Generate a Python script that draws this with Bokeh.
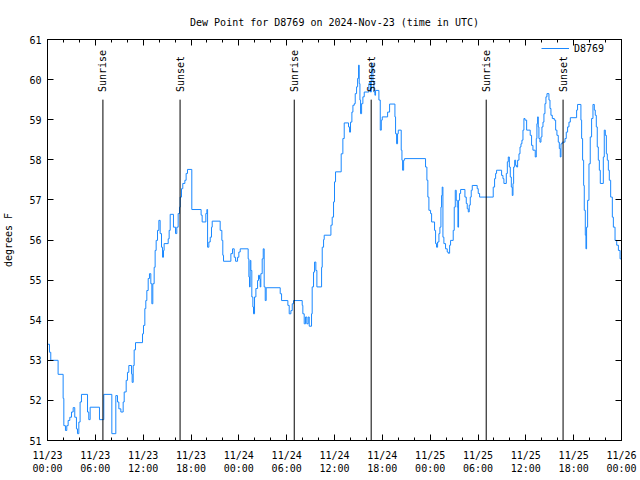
import math
from bokeh.plotting import figure
from bokeh.models import FixedTicker, LinearAxis, Legend, LegendItem, Range1d, ColumnDataSource
from bokeh.core.properties import value
from bokeh.embed import file_html
from bokeh.resources import INLINE

FONT = "DejaVu Sans Mono"

# hours since 2024-11-23 00:00 UTC
hours = [0.0, 0.25, 0.41, 1.33, 1.96, 2.05, 2.25, 2.42, 2.59, 2.80, 3.01, 3.22, 3.42, 3.63, 3.76, 3.93,
         4.09, 4.26, 5.02, 5.18, 5.35, 6.52, 7.06, 8.07, 8.57, 8.78, 8.95, 9.2, 9.49, 9.62, 9.87, 10.03,
         10.2, 10.54, 10.62, 10.75, 10.87, 11.04, 11.92, 12.04, 12.21, 12.33, 12.46, 12.63, 12.79, 12.96,
         13.09, 13.21, 13.38, 13.5, 13.63, 13.8, 13.97, 14.13, 14.3, 14.43, 14.55, 14.63, 15.14, 15.26,
         15.39, 15.8, 16.06, 16.22, 16.39, 16.56, 16.64, 16.81, 16.97, 17.23, 17.39, 17.56, 18.1, 19.27,
         19.4, 19.86, 19.99, 20.08, 20.24, 20.41, 20.57, 20.66, 21.66, 21.87, 21.99, 22.08, 23.0, 23.21,
         23.42, 23.59, 23.84, 24.0, 24.17, 25.17, 25.26, 25.34, 25.42, 25.51, 25.63, 25.76, 25.84, 25.97,
         26.14, 26.35, 26.47, 26.6, 26.68, 26.76, 26.93, 27.06, 27.18, 27.31, 27.43, 29.19, 29.36, 30.15,
         30.32, 30.53, 30.7, 30.86, 31.95, 32.03, 32.2, 32.37, 32.53, 32.7, 32.83, 33.12, 33.2, 33.37,
         33.5, 33.66, 33.79, 34.38, 34.46, 34.63, 34.71, 35.55, 35.71, 35.88, 36.0, 36.13, 36.84, 37.05,
         37.22, 37.76, 37.89, 38.01, 38.18, 38.31, 38.48, 38.6, 38.77, 38.9, 39.02, 39.1, 39.19, 39.27,
         39.4, 39.56, 39.73, 40.31, 40.4, 40.52, 40.61, 40.69, 40.82, 40.94, 41.07, 41.15, 41.57, 41.74,
         41.87, 41.99, 42.66, 42.91, 43.58, 43.66, 43.79, 43.91, 44.0, 44.37, 44.46, 44.54, 44.67, 44.79,
         47.42, 47.59, 47.71, 47.84, 48.05, 48.18, 48.55, 48.68, 48.8, 48.93, 49.1, 49.22, 49.35, 49.43,
         49.51, 49.6, 49.72, 49.93, 50.14, 50.27, 50.44, 50.56, 50.89, 51.02, 51.15, 51.27, 51.4, 51.48,
         51.56, 51.69, 51.82, 52.36, 52.53, 52.65, 52.78, 52.9, 53.03, 53.15, 53.28, 53.9, 54.03, 54.2,
         55.91, 56.08, 56.21, 56.33, 56.96, 57.13, 57.25, 57.55, 57.68, 57.8, 57.93, 58.05, 58.18, 58.3,
         58.39, 58.47, 58.6, 58.72, 58.85, 58.97, 59.14, 59.27, 59.39, 59.51, 59.64, 59.76, 59.89, 60.1,
         60.55, 60.72, 60.89, 61.18, 61.31, 61.39, 61.48, 61.56, 61.64, 61.77, 61.9, 62.02, 62.15, 62.27,
         62.4, 62.52, 62.65, 62.9, 63.03, 63.15, 63.32, 63.57, 63.74, 63.9, 64.07, 64.2, 64.32, 64.41,
         64.57, 64.91, 65.07, 65.24, 65.41, 65.58, 66.37, 66.49, 66.91, 67.0, 67.12, 67.25, 67.33, 67.46,
         67.54, 67.62, 67.75, 67.92, 68.08, 68.25, 68.42, 68.59, 68.71, 68.84, 68.96, 69.09, 69.22, 69.34,
         69.72, 69.84, 69.97, 70.1, 70.22, 70.35, 70.47, 70.64, 70.85, 70.98, 71.19, 71.4, 71.61, 71.82, 72.0]

dewpoint_f = [53.4, 53.2, 53.0, 52.65, 52.05, 51.37, 51.25, 51.37, 51.5, 51.58, 51.71, 51.82, 51.58, 51.29, 51.17, 51.46,
              51.96, 52.15, 51.71, 51.52, 51.83, 51.52, 52.15, 51.17, 52.12, 51.96, 51.79, 51.71, 51.96, 52.21, 52.5, 52.7,
              52.87, 52.66, 52.45, 52.87, 53.26, 53.44, 53.66, 53.87, 54.29, 54.49, 54.74, 55.04, 55.16, 54.91,
              54.41, 54.91, 55.32, 55.74, 55.99, 56.24, 56.49, 56.16, 55.82, 55.57, 55.74, 55.91, 56.03, 56.24,
              56.64, 56.32, 56.16, 56.32, 56.66, 56.82, 57.07, 57.28, 57.41, 57.49, 57.66, 57.76, 56.76, 56.62,
              56.45, 56.66, 56.76, 55.82, 55.95, 56.07, 56.32, 56.47, 56.24, 55.99, 55.62, 55.47, 55.66, 55.78,
              55.57, 55.47, 55.57, 55.7, 55.78, 55.53, 55.08, 54.83, 55.49, 55.24, 54.58, 54.33, 54.16, 54.58,
              54.79, 54.99, 55.12, 55.03, 54.83, 55.16, 55.53, 55.78, 54.83, 54.49, 54.81, 54.66, 54.49, 54.37,
              54.16, 54.24, 54.41, 54.49, 54.37, 54.16, 53.91, 54.08, 53.91, 54.08, 53.85, 54.16, 54.83, 55.2,
              55.45, 55.24, 54.83, 55.32, 55.82, 56.01, 56.12, 56.37, 56.57, 56.95, 57.45, 57.7, 58.15, 58.53,
              58.92, 58.82, 58.69, 58.94, 59.19, 59.36, 59.4, 59.65, 59.82, 60.03, 60.36, 59.9, 59.49, 59.15,
              59.4, 59.57, 59.69, 59.9, 59.94, 59.69, 60.15, 60.4, 59.94, 59.69, 59.61, 59.73, 59.49, 58.74,
              58.99, 59.07, 59.19, 59.39, 59.07, 58.65, 58.4, 58.65, 58.74, 58.24, 57.99, 57.74, 57.99, 58.03,
              57.82, 57.49, 57.07, 56.74, 56.66, 56.45, 56.24, 55.91, 55.82, 55.95, 56.16, 56.32, 56.82, 57.11,
              57.32, 56.07, 55.91, 55.78, 55.7, 55.67, 55.87, 55.99, 56.24, 56.82, 57.24, 56.99, 56.82, 56.32,
              56.99, 57.16, 57.26, 57.07, 56.91, 56.78, 56.7, 56.87, 57.07, 57.24, 57.36, 57.28, 57.16, 57.07,
              57.32, 57.53, 57.66, 57.74, 57.61, 57.53, 57.41, 57.66, 57.95, 58.07, 57.82, 57.57, 57.32, 57.11,
              57.41, 57.82, 57.99, 57.86, 57.82, 57.99, 58.15, 58.32, 58.4, 58.49, 58.74, 59.03, 58.99, 58.74,
              58.61, 58.36, 58.24, 58.07, 58.53, 58.9, 59.07, 58.82, 58.53, 58.44, 58.57, 58.82, 58.94, 59.15,
              59.4, 59.57, 59.65, 59.49, 59.28, 59.11, 59.03, 58.99, 58.74, 58.61, 58.44, 58.28, 58.07, 58.4,
              58.44, 58.53, 58.69, 58.82, 58.94, 59.05, 59.24, 59.38, 58.99, 58.53, 57.99, 57.36, 56.74, 56.12,
              55.78, 56.32, 56.99, 57.9, 58.57, 59.03, 59.38, 59.24, 59.11, 58.82, 58.32, 57.99, 57.74, 57.41,
              58.07, 58.74, 58.61, 58.15, 57.99, 57.74, 57.49, 57.07, 56.57, 56.32, 55.99, 55.87, 55.74, 55.53, 55.4]

sun_hours = [6.95, 16.63, 30.95, 40.6, 55.03, 64.67]
sun_labels = ["Sunrise", "Sunset", "Sunrise", "Sunset", "Sunrise", "Sunset"]

x_ticks = [0, 6, 12, 18, 24, 30, 36, 42, 48, 54, 60, 66, 72]
x_tick_labels = ["11/23\n00:00", "11/23\n06:00", "11/23\n12:00", "11/23\n18:00",
                 "11/24\n00:00", "11/24\n06:00", "11/24\n12:00", "11/24\n18:00",
                 "11/25\n00:00", "11/25\n06:00", "11/25\n12:00", "11/25\n18:00",
                 "11/26\n00:00"]
x_minor_ticks = list(range(0, 73, 2))
y_ticks = [51, 52, 53, 54, 55, 56, 57, 58, 59, 60, 61]

p = figure(width=640, height=480, output_backend="svg", toolbar_location=None,
           x_range=Range1d(0, 72), y_range=Range1d(51, 61),
           min_border_left=47, min_border_right=19, min_border_top=39, min_border_bottom=40)
p.background_fill_color = "white"
p.border_fill_color = "white"
p.outline_line_color = "black"
p.outline_line_width = 1
p.xgrid.visible = False
p.ygrid.visible = False

p.title.text = "Dew Point for D8769 on 2024-Nov-23 (time in UTC)"
p.title.align = "center"
p.title.text_font = FONT
p.title.text_font_size = "10px"
p.title.text_font_style = "normal"
p.title.text_color = "black"
p.title.standoff = 23

xt = FixedTicker(ticks=x_ticks, minor_ticks=x_minor_ticks)
yt = FixedTicker(ticks=y_ticks, minor_ticks=[])
overrides = {t: lab for t, lab in zip(x_ticks, x_tick_labels)}


def style_axis(ax, ticker):
    ax.ticker = ticker
    ax.axis_line_color = "black"
    ax.major_tick_line_color = "black"
    ax.minor_tick_line_color = "black"
    ax.major_tick_in = 6
    ax.major_tick_out = 0
    ax.minor_tick_in = 3
    ax.minor_tick_out = 0
    ax.major_label_text_font = FONT
    ax.major_label_text_font_size = "10px"
    ax.major_label_text_color = "black"


style_axis(p.xaxis[0], xt)
p.xaxis[0].major_label_overrides = overrides
p.xaxis[0].major_label_standoff = 9
style_axis(p.yaxis[0], yt)
p.yaxis[0].major_label_standoff = 6
p.yaxis[0].axis_label = "degrees F"
p.yaxis[0].axis_label_text_font = FONT
p.yaxis[0].axis_label_text_font_size = "10px"
p.yaxis[0].axis_label_text_font_style = "normal"
p.yaxis[0].axis_label_text_color = "black"
p.yaxis[0].axis_label_standoff = 12

# mirrored tick marks on the top and right edges (no labels)
top_axis = LinearAxis()
style_axis(top_axis, xt)
top_axis.major_label_overrides = {t: "" for t in x_ticks}
top_axis.major_label_standoff = 0
p.add_layout(top_axis, "above")
right_axis = LinearAxis()
style_axis(right_axis, yt)
right_axis.major_label_overrides = {t: "" for t in y_ticks}
right_axis.major_label_standoff = 0
p.add_layout(right_axis, "right")

src = ColumnDataSource(data=dict(h=hours, dp=dewpoint_f))
line = p.step(x="h", y="dp", source=src, mode="after", line_color="#1a88ff", line_width=1)

sun_src = ColumnDataSource(data=dict(h=sun_hours, lab=sun_labels,
                                     y0=[51] * len(sun_hours), y1=[59.5] * len(sun_hours),
                                     ty=[59.69] * len(sun_hours)))
p.segment(x0="h", y0="y0", x1="h", y1="y1", source=sun_src, line_color="black", line_width=1)
p.text(x="h", y="ty", text="lab", source=sun_src, angle=math.pi / 2, text_align="left",
       text_baseline="middle", text_font=value(FONT), text_font_size="10px", text_color="black")

legend = Legend(items=[LegendItem(label="D8769", renderers=[line])], location=(494, 386),
                border_line_color=None, background_fill_alpha=0, label_text_font=FONT,
                label_text_font_size="10px", label_text_color="black",
                glyph_width=28, glyph_height=12, label_height=12,
                margin=0, padding=2, label_standoff=5)
p.add_layout(legend)

open("out.html", "w").write(file_html(p, INLINE))
